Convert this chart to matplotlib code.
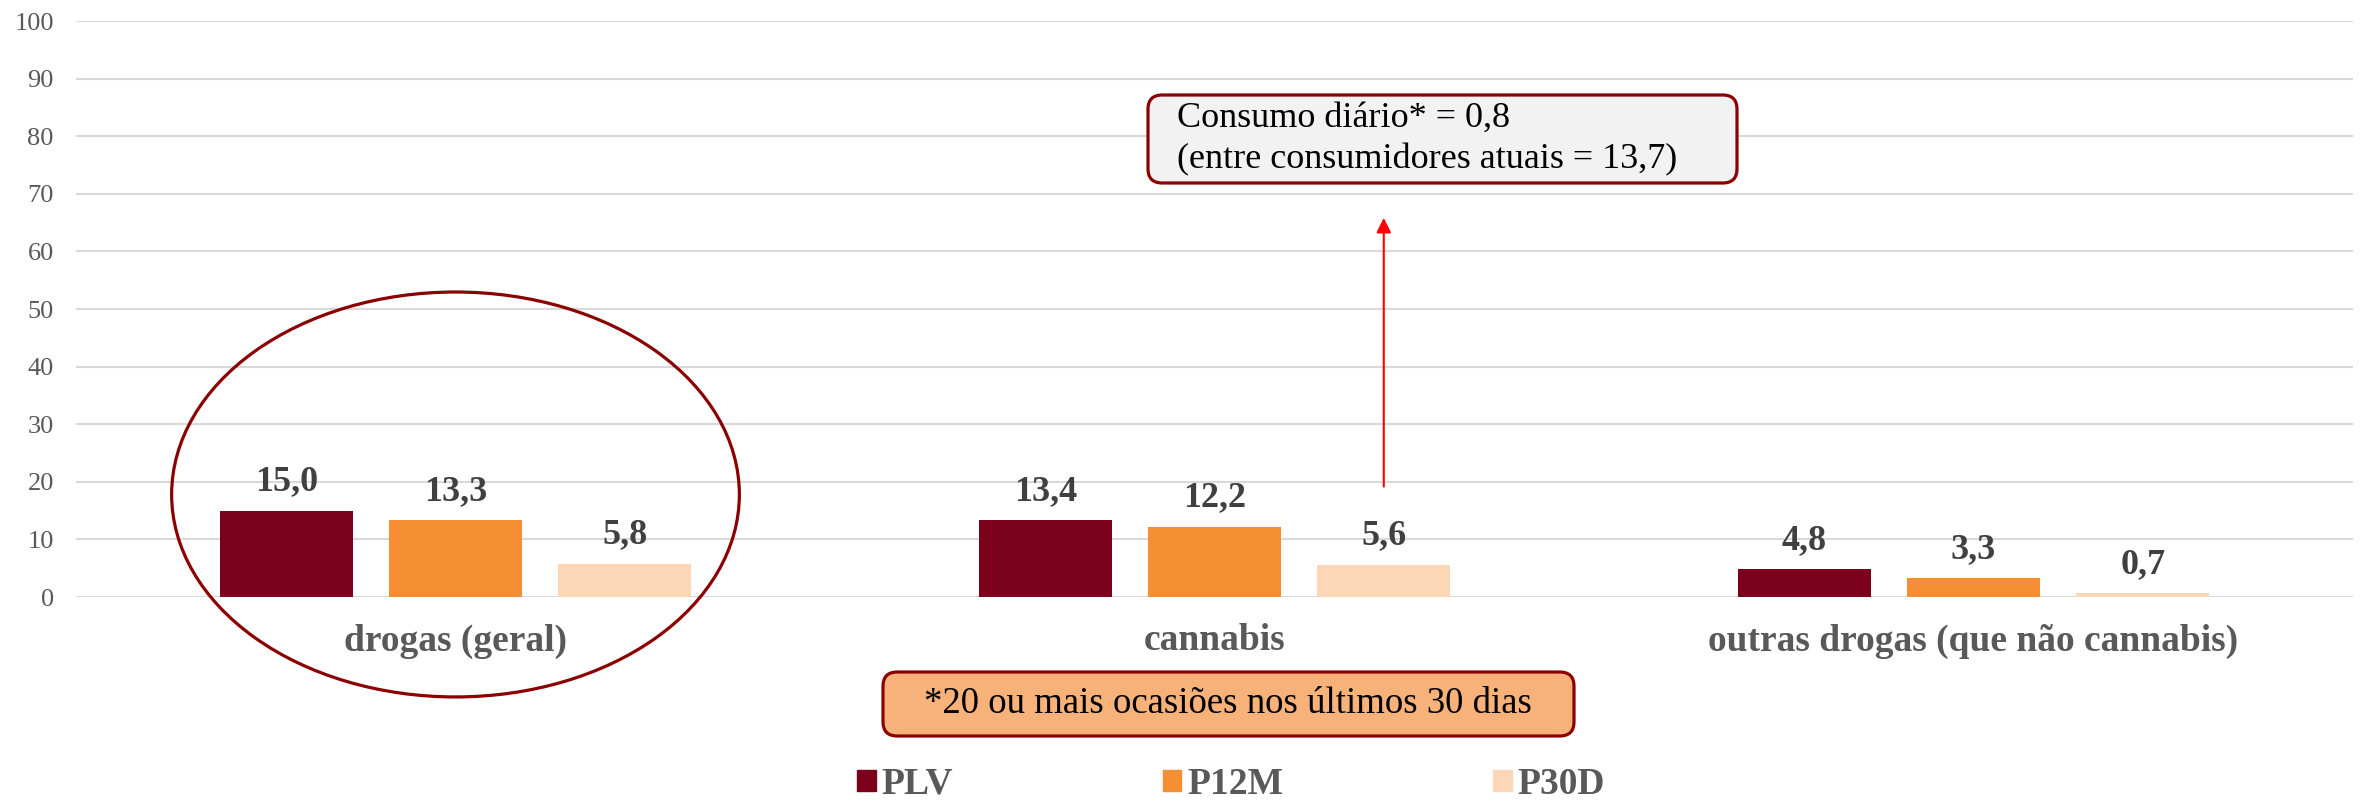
import numpy as np
import matplotlib.pyplot as plt
from matplotlib.patches import Ellipse, FancyBboxPatch, Patch

plt.rcParams['font.family'] = ['Liberation Serif', 'DejaVu Serif']

categories = ['drogas (geral)', 'cannabis', 'outras drogas (que não cannabis)']
series = ['PLV', 'P12M', 'P30D']
plv = [15.0, 13.4, 4.8]
p12m = [13.3, 12.2, 3.3]
p30d = [5.8, 5.6, 0.7]
colors = ['#7B001C', '#F68E33', '#FBD7B7']

note_daily = 'Consumo diário* = 0,8\n(entre consumidores atuais = 13,7)'
note_foot = '*20 ou mais ocasiões nos últimos 30 dias'

W, H = 2372, 802
fig = plt.figure(figsize=(W / 100, H / 100), dpi=100)
ax = fig.add_axes([76 / W, 1 - 597 / H, 2277 / W, 576 / H])

x = np.arange(len(categories))
width = 0.175
step = 0.223
for i, (vals, c) in enumerate(zip([plv, p12m, p30d], colors)):
    pos = x + (i - 1) * step
    ax.bar(pos, vals, width, color=c, zorder=3)
    for px, v in zip(pos, vals):
        ax.annotate(f'{v:.1f}'.replace('.', ','), (px, v), xytext=(0, 14.5),
                    textcoords='offset points', ha='center', va='baseline',
                    fontsize=26, fontweight='bold', color='#404040')

ax.set_xlim(-0.5, 2.5)
ax.set_ylim(0, 100)
ax.set_yticks(range(0, 101, 10))
ax.set_xticks(x)
ax.set_xticklabels(categories, fontsize=27, fontweight='bold', color='#595959')
ax.tick_params(axis='x', length=0, pad=19)
ax.tick_params(axis='y', length=0, pad=16, labelsize=19, labelcolor='#595959')
ax.grid(axis='y', color='#D9D9D9', lw=1.5, zorder=0)
for s in ax.spines.values():
    s.set_visible(False)

# circle around the first group
ax.add_patch(Ellipse((0, 17.8), 0.748, 70.3, fill=False, ec='#8B0000',
                     lw=2.3, clip_on=False, zorder=4))

# arrow from cannabis P30D up to the note
ax.annotate('', xy=(1 + step, 66.3), xytext=(1 + step, 18.7),
            arrowprops=dict(arrowstyle='-|>', color='red', lw=1.5,
                            mutation_scale=22))

asp = W / H
fig.patches.append(FancyBboxPatch((1148 / W, 1 - 183 / H), 589 / W, 88 / H,
                                  boxstyle='round,pad=0,rounding_size=0.006',
                                  mutation_aspect=asp, transform=fig.transFigure,
                                  fc='#F2F2F2', ec='#8B0000', lw=2.3))
fig.text(1177 / W, 1 - 139 / H, note_daily, ha='left', va='center',
         fontsize=26, linespacing=1.3, color='black')

fig.patches.append(FancyBboxPatch((883 / W, 1 - 736 / H), 691 / W, 64 / H,
                                  boxstyle='round,pad=0,rounding_size=0.006',
                                  mutation_aspect=asp, transform=fig.transFigure,
                                  fc='#F7B27A', ec='#8B0000', lw=2.3))
fig.text(1228 / W, 1 - 704 / H, note_foot, ha='center', va='center',
         fontsize=26.5, color='black')

handles = [Patch(color=c) for c in colors]
fig.legend(handles, series, loc='center', bbox_to_anchor=(1231 / W, 0.022),
           ncol=3, frameon=False, prop={'size': 27, 'weight': 'bold'},
           labelcolor='#595959', handlelength=0.5, handleheight=0.5,
           handletextpad=0.15, columnspacing=5.6)

fig.savefig('out.png', dpi=100)
